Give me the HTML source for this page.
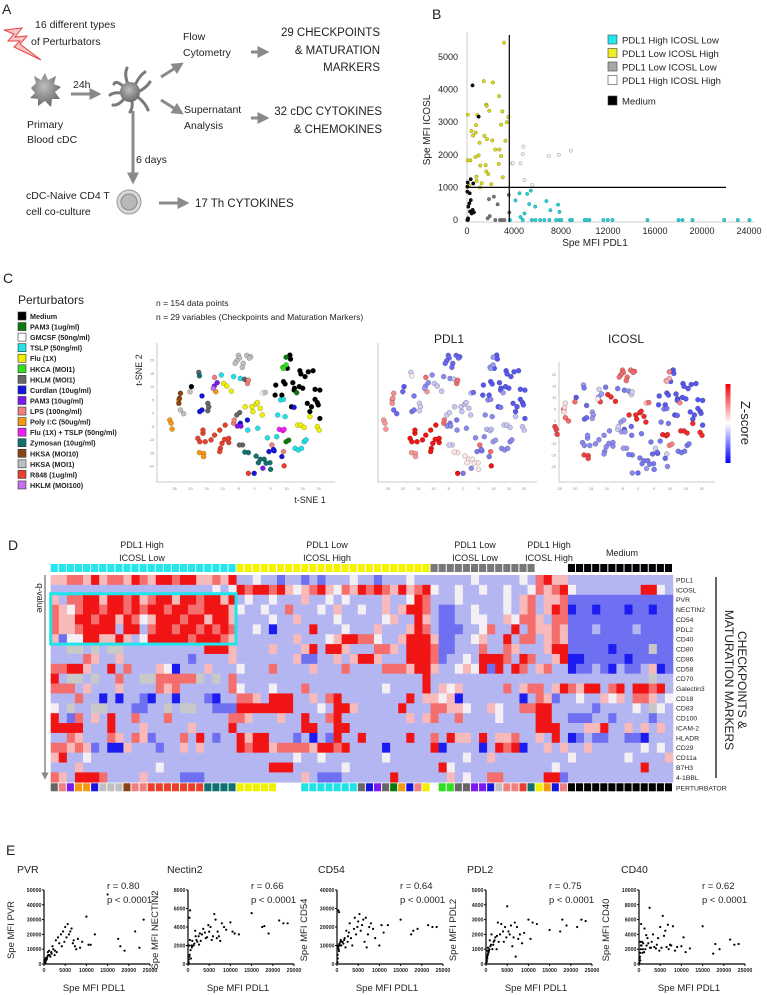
<!DOCTYPE html>
<html><head><meta charset="utf-8">
<style>
html,body{margin:0;padding:0;background:#fff;}
svg{display:block;font-family:"Liberation Sans",sans-serif;}
</style></head>
<body>
<svg id="fig" width="767" height="995" viewBox="0 0 767 995" xmlns="http://www.w3.org/2000/svg">
<defs>
<marker id="ah" markerWidth="4" markerHeight="4" refX="2.5" refY="2" orient="auto"><path d="M0,0 L4,2 L0,4 z" fill="#8a8a8a"/></marker>
<marker id="ah2" markerWidth="5" markerHeight="5" refX="2.5" refY="2.5" orient="auto"><path d="M0,0 L5,2.5 L0,5 z" fill="#888"/></marker>
<radialGradient id="cellg" cx="0.45" cy="0.4" r="0.6"><stop offset="0" stop-color="#bdbdbd"/><stop offset="1" stop-color="#6a6a6a"/></radialGradient>
<linearGradient id="zbar" x1="0" y1="0" x2="0" y2="1"><stop offset="0" stop-color="#f00000"/><stop offset="0.5" stop-color="#ffffff"/><stop offset="1" stop-color="#0000ff"/></linearGradient>
</defs>

<!-- PANEL A -->
<g font-size="10.5" fill="#222">
<text x="2" y="14" font-size="14">A</text>
<polygon points="4,30 22,28 15,37 27,36 20,44 41,60 14,47 20,41 8,41 14,34" fill="#f8c8c8" stroke="#e84040" stroke-width="1"/>
<text x="35" y="28">16 different types</text>
<text x="31" y="45">of Perturbators</text>
<path d="M31,88 L36,83 L34,76 L41,80 L45,73 L48,80 L56,76 L54,84 L61,87 L55,92 L60,99 L52,99 L51,107 L45,101 L38,106 L38,99 L30,98 L35,93 z" fill="url(#cellg)"/>
<text x="27" y="128">Primary</text>
<text x="27" y="143">Blood cDC</text>
<line x1="71" y1="94" x2="97" y2="94" stroke="#8a8a8a" stroke-width="3" marker-end="url(#ah)"/>
<text x="73" y="88">24h</text>
<g stroke="#7a7a7a" stroke-width="3" stroke-linecap="round" fill="none">
<path d="M128,84 Q124,75 127,68"/><path d="M135,85 Q140,75 145,72"/><path d="M138,92 Q146,88 150,82"/><path d="M139,98 Q146,104 148,110"/><path d="M132,101 Q133,108 130,112"/><path d="M124,99 Q118,106 113,105"/><path d="M121,93 Q114,92 110,95"/><path d="M123,86 Q116,80 114,84"/>
</g>
<circle cx="130" cy="92" r="10" fill="url(#cellg)"/>
<line x1="161" y1="77" x2="180" y2="65" stroke="#8a8a8a" stroke-width="3" marker-end="url(#ah)"/>
<line x1="161" y1="100" x2="180" y2="112" stroke="#8a8a8a" stroke-width="3" marker-end="url(#ah)"/>
<text x="183" y="40">Flow</text>
<text x="183" y="56">Cytometry</text>
<line x1="251" y1="52" x2="265" y2="52" stroke="#8a8a8a" stroke-width="3" marker-end="url(#ah)"/>
<g font-size="11.5" text-anchor="end">
<text x="380" y="36">29 CHECKPOINTS</text>
<text x="380" y="54">&amp; MATURATION</text>
<text x="380" y="71">MARKERS</text>
<text x="382" y="115">32 cDC CYTOKINES</text>
<text x="382" y="133">&amp; CHEMOKINES</text>
</g>
<text x="184" y="113">Supernatant</text>
<text x="184" y="129">Analysis</text>
<line x1="251" y1="118" x2="265" y2="118" stroke="#8a8a8a" stroke-width="3" marker-end="url(#ah)"/>
<line x1="133" y1="111" x2="133" y2="180" stroke="#8a8a8a" stroke-width="3" marker-end="url(#ah)"/>
<text x="136" y="163">6 days</text>
<circle cx="129" cy="202" r="12" fill="#d8d8d8" stroke="#999" stroke-width="1"/>
<circle cx="129" cy="202" r="8" fill="#b8b8b8" stroke="#888" stroke-width="1"/>
<text x="26" y="199">cDC-Naive CD4 T</text>
<text x="26" y="215">cell co-culture</text>
<line x1="159" y1="203" x2="185" y2="203" stroke="#8a8a8a" stroke-width="3" marker-end="url(#ah)"/>
<text x="195" y="207" font-size="11.5">17 Th CYTOKINES</text>
</g>

<!-- PANEL B static -->
<g fill="#222">
<text x="432" y="19" font-size="14">B</text>
<text transform="translate(430,130) rotate(-90)" text-anchor="middle" font-size="10">Spe MFI ICOSL</text>
<text x="595" y="246" text-anchor="middle" font-size="10">Spe MFI PDL1</text>
</g>
<g id="bplot"></g>

<!-- PANEL C static -->
<g fill="#222">
<text x="3" y="283" font-size="14">C</text>
<text x="18" y="304" font-size="12">Perturbators</text>
<text x="156" y="306" font-size="8.5">n = 154 data points</text>
<text x="156" y="320" font-size="8.5">n = 29 variables (Checkpoints and Maturation Markers)</text>
<text transform="translate(142,370) rotate(-90)" text-anchor="middle" font-size="9">t-SNE 2</text>
<text x="310" y="503" text-anchor="middle" font-size="9">t-SNE 1</text>
<text x="449" y="343" text-anchor="middle" font-size="12">PDL1</text>
<text x="626" y="343" text-anchor="middle" font-size="12">ICOSL</text>
<rect x="725.5" y="384" width="5" height="79" fill="url(#zbar)"/>
<text transform="translate(741,423) rotate(90)" text-anchor="middle" font-size="13">Z-score</text>
</g>
<g id="cplot"></g>

<!-- PANEL D static -->
<g fill="#222">
<text x="8" y="550" font-size="14">D</text>
<g font-size="9" text-anchor="middle">
<text x="142" y="548">PDL1 High</text>
<text x="142" y="561">ICOSL Low</text>
<text x="327" y="548">PDL1 Low</text>
<text x="327" y="561">ICOSL High</text>
<text x="475" y="548">PDL1 Low</text>
<text x="475" y="561">ICOSL Low</text>
<text x="549" y="548">PDL1 High</text>
<text x="549" y="561">ICOSL High</text>
<text x="622" y="556">Medium</text>
</g>
<text transform="translate(37,598) rotate(90)" text-anchor="middle" font-size="9">q-value</text>
<line x1="45" y1="575" x2="45" y2="776" stroke="#888" stroke-width="1.5" marker-end="url(#ah2)"/>
<line x1="716" y1="577" x2="716" y2="778" stroke="#000" stroke-width="1.2"/>
<text transform="translate(738,680) rotate(90)" text-anchor="middle" font-size="12">CHECKPOINTS &amp;</text>
<text transform="translate(725,680) rotate(90)" text-anchor="middle" font-size="12">MATURATION MARKERS</text>
</g>
<g id="dplot"></g>

<!-- PANEL E -->
<text x="6" y="855" font-size="14" fill="#222">E</text>
<g id="eplot"></g>
</svg>

<script>
// ---------- DATA ----------
// Panel B
const bTicksX = [0,4000,8000,12000,16000,20000,24000];
const bTicksY = [0,1000,2000,3000,4000,5000];
const bYellowX = [3150,1420,2210,2730,1640,1670,1900,3010,61,880,3520,3380,2900,770,380,740,510,1480,1700,2150,1070,3270,2410,2760,2900,710,990,61,290,1590,1130,1640,2700,1810,800,3040,820,1250,2070,200,1100];
const bYellowY = [5440,4260,4220,3800,3540,3500,3350,3330,3230,3220,3160,3000,2920,2910,2730,2680,2590,2580,2480,2440,2370,2430,2160,2160,1960,1930,1980,1830,1830,1680,1670,1490,1720,1410,1330,1310,1200,1130,1100,1050,1000];
const bBlackX = [470,990,60,320,30,530,30,200,110,320,260,400,90,30,480,590,230];
const bBlackY = [4130,3170,1150,1250,870,1120,1020,510,410,610,260,200,50,0,310,235,820];
const bGrayX = [1870,2290,2610,1760,1930,2410,2810,2980,3180,3600,3550,90,540];
const bGrayY = [640,715,480,50,120,0,0,0,0,230,770,0,245];
const bWhiteX = [3830,3890,4800,4750,4560,4880,5560,6960,7810,8830];
const bWhiteY = [1740,1740,2250,2020,1740,1230,1070,1960,2000,2130];
const bCyanX = [4130,4470,5120,5430,5800,6760,7750,7870,7100,5290,4890,4560,3660,4740,5510,5820,6220,6580,7010,7580,7860,8030,8770,8940,10020,10190,10420,11610,11980,12380,15360,18000,18340,19190,21890,23050,24040];
const bCyanY = [600,820,800,900,410,580,470,250,300,490,200,90,0,0,0,0,0,0,0,0,0,0,0,0,0,0,0,0,0,0,0,0,0,0,0,0,0];
const bLegendLabels = ["PDL1 High ICOSL Low","PDL1 Low ICOSL High","PDL1 Low ICOSL Low","PDL1 High ICOSL High","Medium"];
const bLegendColors = ["#22e8ee","#eeee22","#a8a8a8","#ffffff","#000000"];
const bThresholdX = 3600;
const bThresholdY = 1000;

// Panel C
const pertCodes = ["K","G","W","C","Y","L","M","U","P","S","O","F","T","N","H","R","V"];
const pertNames = ["Medium","PAM3 (1ug/ml)","GMCSF (50ng/ml)","TSLP (50ng/ml)","Flu (1X)","HKCA (MOI1)","HKLM (MOI1)","Curdlan (10ug/ml)","PAM3 (10ug/ml)","LPS (100ng/ml)","Poly I:C (50ug/ml)","Flu (1X) + TSLP (50ng/ml)","Zymosan (10ug/ml)","HKSA (MOI10)","HKSA (MOI1)","R848 (1ug/ml)","HKLM (MOI100)"];
const pertColors = ["#000000","#0a7a0a","#ffffff","#22e0e8","#f0f000","#33dd22","#666666","#1414e0","#7a1aee","#f08080","#f59a10","#ee22ee","#117070","#8b4513","#c0c0c0","#e8402a","#c070f0"];
const pdl1Z = [-0.9,-0.5,-0.3,-0.6,-0.25,-0.5,-0.2,-0.7,-0.6,0.6,0.4,-0.3,0.05,0.45,-0.8,1.0,-0.5];
const icoslZ = [-0.9,0.5,0.2,-0.7,0.9,0.3,-0.5,-0.8,-0.5,-0.2,0.8,0.9,-0.7,0.1,0.6,-0.6,0.0];
const tsneTicks = [-25,-20,-15,-10,-5,0,5,10,15,20];
const ptsK = [[11,22.1],[11.2,20.6],[10.2,17.1],[6.6,10.8],[9,12.1],[9.5,11.2],[6.4,7],[8.5,7],[12.4,9.6],[13.9,10.2],[15,9.6],[14.1,16.2],[14.4,15],[15.7,14],[16.7,15.8],[18.2,16.2],[11.9,11.7],[12.3,8.9],[18.8,9.2],[20.3,8.9],[18.8,5.4],[19.5,4.2],[19.8,3.3],[17.7,2.6],[16.4,3.9],[17.2,0.8],[20.3,-1.8],[11.5,2.6],[-19.6,10.2]];
const ptsG = [[9.8,21.3],[13.1,7.9],[9.8,-10.6],[10.6,-10]];
const ptsW = [[2.5,7.8]];
const ptsC = [[-10.3,14.6],[-6.5,14],[-4.4,13.3],[8.1,5.2],[9,5.4],[7.2,-0.5],[9.5,-1.1],[6.9,-8.7],[4,-9.1],[12.6,-13.1],[13.6,-13.7],[14.6,-13.1],[15.4,-10.6],[16,-9.9],[-2.1,-6.2],[1,-5.5]];
const ptsY = [[-9.6,11.4],[-8.6,10.4],[-7.2,8.5],[-2.9,2.6],[-0.8,2.6],[0.5,3.6],[0.9,4.2],[1.8,2],[2.4,-0.5],[-0.5,0.8],[13.4,-4.3],[14.4,-4.3],[15.4,-5.2],[19.5,-4.9],[20.1,-6.2],[17.2,-1.1]];
const ptsL = [[8.8,17.5],[9.8,18.4],[9,17.1]];
const ptsM = [[-17.3,15.6],[-14.5,3.9],[-14.2,2.6],[-14.5,1.1],[-5.5,-0.5],[-4.6,0.4],[-3.7,-11.8],[-4.7,-11.8],[-3.1,13],[-2.3,12.4]];
const ptsU = [[-16.3,6.7],[-17,0.8],[-16.3,1.4],[-4.4,-3.6],[-2.2,-2.4],[4.5,-14.3],[6.1,-14],[5.9,-13.5],[8.5,-16.2],[-0.1,-22.5],[12.3,2.4]];
const ptsP = [[-12.5,10.4],[-11.6,11.7],[-5.3,-4.7],[-4.2,-4.7],[2.6,-20.6]];
const ptsS = [[-12.4,13.7],[-2.2,11.4],[-6.5,-3.6],[-6.3,-2.4],[5.4,-11.8],[9,-14.3],[-1.9,12.6]];
const ptsO = [[-26.3,-2.4],[-25.9,-3.6],[-25.6,-5.8],[-23.5,5.2],[-12,8.3],[-17.1,-14.7],[-15.8,-15],[-15.8,-16.2]];
const ptsF = [[7.7,-5.9],[8.8,-6.4],[9.2,-5.9]];
const ptsT = [[-17.1,14.3],[0.5,-16],[1.8,-17.2],[1.2,-18.5],[3,-17.2],[4.8,-18.5],[5,-21],[3.6,-18.7],[-1.9,-14.7],[-3,-14.5]];
const ptsN = [[-23,7.7],[-23.3,5.8],[-23.5,3.9]];
const ptsH = [[-5,22],[-4.7,21],[-5.5,20],[-6,19],[-3.5,19],[-3.8,17.5],[-2.4,22],[-1.2,21.5],[-1.6,21],[3.3,8],[-20,8.3],[-22,0],[-23,1.4]];
const ptsR = [[-17.6,-9.3],[-16,-7.4],[-16,-6.2],[-17,-10.6],[-15.3,-10.6],[-13.5,-9.9],[-12.4,-8.1],[-10.8,-6.2],[-10.1,-11.2],[-10.6,-13.1],[-10.8,-14.3],[-9.3,-9.7],[-8,-9.3],[-8,-10.9],[-1.9,-22.5],[9.2,-19.7],[-9.1,-4.3]];
const ptsV = [[-12.8,9.5]];

// Panel D
const hmRowNames = ["PDL1","ICOSL","PVR","NECTIN2","CD54","PDL2","CD40","CD80","CD86","CD58","CD70","Galectin3","CD18","CD83","CD100","ICAM-2","HLADR","CD29","CD11a","B7H3","4-1BBL"];
const hmGroupSizes = [23,24,13,4,13];
const hmGroupColors = ["#22e8ee","#f4f400","#777777","#ffffff","#000000"];
const hmRows = [
["pprrpRprrpRrpRRrRRpprpR","bbwbbBbbBbBbbbwbbBbbbwbb","bbbbbwbbbbbwb","rRpp","bbbbbbbbbbbbb"],
["bbbbbbbbbbbbbbbbbbbbwbw","RrRRrRpwprRpwrpRrRrpRprR","wbbwbbwbbwbbw","rprR","wbbbbbbbbRRwb"],
["pbrrRRpRRrRprRRpRRrRRpR","bwbbwbbbpbbwbwbbbbpbbwRr","bbbwbbbbbwbpr","bppr","BBBBBBBBBBBBB"],
["rpwrRRrRRrRrRRrRRrrRRRp","wbbwbbrbbbwbpbbwbbpbpRRr","bBBbbwbbbwbpr","bpRr","DBBDBBBDBBDBB"],
["rppRRrRRpRrwpRRRrRRpRRp","bbbbwbbpbbbbwbbbbbwpbbRp","bBBbbwwbbpwrr","pbrr","BBBBBBBBBBBBB"],
["rpprRRRRbRRbrRRrRRrRrRr","bbwbDbbbbRbbbwbbbpbbbpRr","bBBBbbwrbbRbr","pprp","BBBbBBBBbBBBB"],
["pBwwRRppRpbwRRRRRrRRRrp","bbbbbbbpbbbwpRRrrwbbpRRR","pBBbbwpbbRbrr","bprp","BBBBBBBBBBBBB"],
["bbggbgbggbbbbbbbbbbRRRp","bbbbpbbbpRbRRpbbbrrpbRRR","rBBbbbrbbrpbb","bpRR","BBBBBDBBBBgBB"],
["bbbbrpbbpbbbbbbbbBbbbbp","bbbbbbbpBBbbpbpRRpbbbRRR","rBbbwbRRRrbRr","bbpR","DDBBBBBDBBBBB"],
["rrRRpbbRbrbbbpwDbbbpbbb","wbbbrbbbbpbbbrbbbbrrrpRR","pbbwpwRBRbRrb","prbb","DBBbBDbBBbpDB"],
["Rbggbgbbrbbggrrrrrgbgbr","bbbbbbbbbbbbbbbbbbbbbbbR","bbbbbbbbbbbbb","bbbb","bbbbbbbbbbgbb"],
["rrrbpbbbpbbbbrprbbbbbbr","wbbbwbbbrbbbbbbbbbwbbbbR","bpwpbbbbbrbpr","rbpR","rpRRbrRbRRrRb"],
["bbbrbbDbDbbBDbbDbbbBDbb","rrpbRRRbbpbrRbbbbbbbbRbp","pwpDbbbbbbbDb","rpBb","bwbbpwpbrrpbw"],
["wbgbbggbbbBBbbgbggbbBBB","RRRRRRRbbbwbRRpbbbbbRbbb","rrppwbbpwbbrr","RRbb","bbbBbbbbwbgwb"],
["RbBrbpbRbbrbbbrbbbbbbbr","rpbbbpbbRbbrRbbbbbbbbpbp","rbbrbbbbwbbbb","RRbb","BBBbbBbbbbBbb"],
["RRRRbbbRbbbpbbbbbpbbbbR","bbbbbbbbRRbbRRbbbbbbbbbb","bbbbbbbbbbbbb","RRRb","bbppRbbpbpbpb"],
["bbrpbbbrpbrpBbbbrbRbBbb","RpRRbbbBbDbBRbbRbbbbbRbb","rbRppbRbpprbb","pbRb","DBbBBbbBBDbbb"],
["rrprpBbDDpbbbBbbpbpbbbb","RrRRprrrrpRRrRbbbbDbbbbb","RDbbbbDbRrRDb","bpbp","bbpbbbbbbwbwb"],
["pRbbwbbbbbbbbbbbbbbbbbb","bbbbbbbwbbwbbbbbbbwbbbbb","bbbbwbbpbbbbb","bbbb","wbbbbbbwbbbbp"],
["bbbpbbbbbbbbbwbbbbbbbbb","bbbbRRRbbbbbbwbbbbbbbbbb","bRwbbbbbbbbbb","bbwb","bbbbbbbbbRbbb"],
["rpbRRRrbbbbpbbbbBBBbbbb","bbbbbbbbpbBBBbbbbbbRbbbb","bbpbwbbrrbbbb","bRRB","bbbbbbbbbbbbb"]
];
const hmPerturbator = ["MSPOOUHHHNSSRRRRRRRTTTT","YYYYYWWWCCCCCCCMUPMGOUSY","WLLMMPPUHSSRT","YOUS","KKKKKKKKKKKKK"];

// Panel E
const eTitles = ["PVR","Nectin2","CD54","PDL2","CD40"];
const eYLabels = ["Spe MFI PVR","Spe MFI NECTIN2","Spe MFI CD54","Spe MFI PDL2","Spe MFI CD40"];
const eR = ["r = 0.80","r = 0.66","r = 0.64","r = 0.75","r = 0.62"];
const eYMax = [50000,8000,40000,5000,10000];
const eYStep = [10000,2000,10000,1000,2000];
const eXTicks = [0,5000,10000,15000,20000,25000];
const ePDL1 = [200,400,600,800,1000,300,500,700,900,1200,1500,1800,2000,2200,2500,2800,3000,3300,3600,4000,4200,4500,4800,5000,5300,5600,5900,6200,6500,6800,7000,7300,7600,8000,8500,9000,10000,10500,11000,12000,15000,17500,18000,19000,21500,22500,23500,100,150,250,350,450,1300,1700,2600];
const ePVR = [2000,3000,4000,5000,6000,1000,2500,3500,8000,9000,5000,7000,12000,10000,6000,16000,8000,18000,14000,20000,12000,22000,15000,25000,18000,27000,20000,22000,24000,14000,16000,12000,10000,17000,11000,15000,32000,13000,13000,20000,47000,17000,12000,9000,22000,11000,30000,1500,2000,3000,1000,4000,6000,8000,9000];
const eNECTIN2 = [500,1000,1500,2000,2500,800,5800,600,1800,2000,2200,3000,2600,2400,3000,3300,2500,3200,3800,3400,2800,2900,4200,3500,4000,2600,3000,5400,4800,2800,3500,3000,2500,4400,4000,3700,4500,3500,3300,3200,5500,4000,4100,3300,4700,4400,4400,0,200,2000,5000,2600,2000,3600,2100];
const eCD54 = [3000,8000,11000,12000,10000,29000,28000,10000,13000,12000,11000,14000,9000,18000,12000,17000,22000,14000,10000,19000,25000,16000,20000,23000,27000,18000,21000,24000,12000,25000,9000,16000,20000,22000,19000,14000,10000,21000,17000,21000,24000,16000,18000,19000,21000,20000,20000,1000,5000,9000,10000,7000,12000,13000,15000];
const ePDL2 = [200,600,800,1000,1200,400,700,900,1600,1300,1000,1500,1600,1800,1000,2800,1500,2000,2700,2200,1500,2500,1800,3900,2200,2000,2600,1200,1800,2800,500,2500,1700,2000,1400,2100,3000,1700,2800,2700,2300,2200,3000,2600,2500,3000,2900,100,300,500,900,1100,2000,1300,1900];
const eCD40 = [1000,2000,2500,1500,2800,500,5400,3000,2000,1600,2000,2500,3500,2800,7600,2200,3000,4000,2300,2100,2600,3500,1800,5000,2200,6500,3800,4500,2300,5300,2000,2600,2500,5100,1800,2300,2400,3600,1600,2100,5100,1400,2700,2000,3300,2600,2700,200,800,1500,3000,2500,4800,3900,2200];

// ---------- DRAWING ----------
const NS = "http://www.w3.org/2000/svg";
function mk(tag, attrs, parent){
  const e = document.createElementNS(NS, tag);
  for (const k in attrs) e.setAttribute(k, attrs[k]);
  parent.appendChild(e);
  return e;
}
function txt(parent, x, y, s, size, anchor, fill){
  const e = mk("text", {x:x, y:y, "font-size":size, "text-anchor":anchor||"start", fill:fill||"#222"}, parent);
  e.textContent = s;
  return e;
}

// Panel B
(function(){
  const g = document.getElementById("bplot");
  const bx = v => 467 + v/24000*282;
  const by = v => 220 - v/5000*163;
  let e;
  e = mk("line",{x1:bx(0),y1:32,x2:bx(0),y2:by(0)+2,stroke:"#ccc","stroke-width":1},g);
  
  
  e = mk("line",{x1:bx(0),y1:by(0)+2,x2:bx(24000)+5,y2:by(0)+2,stroke:"#ccc","stroke-width":1},g);
  
  
  bTicksX.forEach(v=>{
    e = txt(g, bx(v), 234, String(v), 9, "middle");
    
    
  });
  bTicksY.forEach(v=>{
    e = txt(g, 458, by(v)+3, String(v), 9, "end");
    
    
  });
  function series(xs, ys, fill, stroke, name){
    xs.forEach((v,i)=>{
      const c = mk("circle",{cx:bx(v),cy:by(ys[i]),r:1.7,fill:fill,stroke:stroke,"stroke-width":0.5},g);
      
      
    });
  }
  series(bWhiteX,bWhiteY,"#f4f4f4","#999","b-point-pdl1high-icoslhigh");
  series(bGrayX,bGrayY,"#777","#555","b-point-pdl1low-icosllow");
  series(bYellowX,bYellowY,"#dede1a","#8a8a10","b-point-pdl1low-icoslhigh");
  series(bCyanX,bCyanY,"#2ccfd6","#1a9aa0","b-point-pdl1high-icosllow");
  series(bBlackX,bBlackY,"#111","#000","b-point-medium");
  e = mk("line",{x1:bx(bThresholdX),y1:35,x2:bx(bThresholdX),y2:by(0)+2,stroke:"#000","stroke-width":1.2},g);
  
  
  e = mk("line",{x1:bx(0),y1:by(bThresholdY),x2:726,y2:by(bThresholdY),stroke:"#000","stroke-width":1.2},g);
  
  
  const ly = [40,53.5,67,80.5,101];
  bLegendLabels.forEach((s,i)=>{
    const r = mk("rect",{x:608,y:ly[i]-5,width:9,height:9,fill:bLegendColors[i],stroke:"#444","stroke-width":0.6},g);
    
    
    const t = txt(g, 622, ly[i]+3.5, s, 9.5, "start");
    
    
  });
})();

// Panel C
(function(){
  const g = document.getElementById("cplot");
  let e;
  pertNames.forEach((s,i)=>{
    const y = 316 + i*10.56;
    const r = mk("rect",{x:18,y:y-4,width:8,height:8,fill:pertColors[i],stroke:"#333","stroke-width":0.6},g);
    
    
    const t = txt(g, 30, y+3, s, 7.2, "start");
    t.setAttribute('font-weight','bold');
    
    
  });
  const groups = [["K",ptsK],["G",ptsG],["W",ptsW],["C",ptsC],["Y",ptsY],["L",ptsL],["M",ptsM],["U",ptsU],["P",ptsP],["S",ptsS],["O",ptsO],["F",ptsF],["T",ptsT],["N",ptsN],["H",ptsH],["R",ptsR],["V",ptsV]];
  function zcol(z){
    z = Math.max(-1, Math.min(1, z));
    if (z >= 0){ const t=z; return `rgb(${Math.round(240+15*(1-t))},${Math.round(240*(1-t)+20*t)},${Math.round(240*(1-t)+20*t)})`; }
    const t=-z; return `rgb(${Math.round(240*(1-t)+70*t)},${Math.round(240*(1-t)+70*t)},${Math.round(245*(1-t)+240*t)})`;
  }
  function plot(name, x0, sx, y0, sy, box, colorFn, showYTicks){
    const pg = mk("g",{},g);
    
    
    let a = mk("polyline",{points:`${box[0]},${box[1]} ${box[0]},${box[3]} ${box[2]},${box[3]}`,fill:"none",stroke:"#bbb","stroke-width":0.8},pg);
    
    
    tsneTicks.forEach(v=>{
      const t = txt(pg, x0+v*sx, box[3]+8, String(v), 3.5, "middle", "#888");
      
      
    });
    if (showYTicks){
      [-20,-15,-10,-5,0,5,10,15,20].forEach(v=>{
        const t = txt(pg, box[0]-3, y0-v*sy+1, String(v), 3.5, "end", "#888");
        
        
      });
    }
    groups.forEach(([code, pts])=>{
      const ci = pertCodes.indexOf(code);
      pts.forEach(p=>{
        const c = mk("circle",{cx:x0+p[0]*sx, cy:y0-p[1]*sy, r:2.5, fill:colorFn(ci), stroke:"rgba(0,0,0,0.35)","stroke-width":0.5},pg);
        
        
      });
    });
  }
  plot("tsne-perturbator-plot", 254.5, 3.22, 413.7, 2.65, [157,343,335,482], ci=>pertColors[ci], true);
  plot("tsne-pdl1-plot", 463.4, 3.03, 413.7, 2.65, [378,343,537,482], ci=>zcol(pdl1Z[ci]), false);
  plot("tsne-icosl-plot", 638.3, 3.17, 421, 2.31, [559,362,715,482], ci=>zcol(icoslZ[ci]), true);
})();

// Panel D
(function(){
  const g = document.getElementById("dplot");
  const x0 = 50.7, x1 = 673, ncol = 77;
  const cw = (x1-x0)/ncol;
  const top = 575, rh = 9.87;
  const levelColors = {R:"#f01414",r:"#f46e6e",p:"#f7b9b9",w:"#f3eff4",b:"#b3b6f1",B:"#6f6ff2",D:"#1c1cf0",g:"#c8c8c8"};
  const pertMap = {};
  pertCodes.forEach((c,i)=>{ pertMap[c]=pertColors[i]; });
  function cols(parts){
    let s = "";
    parts.forEach((p,gi)=>{
      let q = p;
      while (q.length < hmGroupSizes[gi]) q += q[q.length-1];
      s += q.slice(0, hmGroupSizes[gi]);
    });
    return s;
  }
  let e;
  let ci = 0;
  hmGroupSizes.forEach((n,gi)=>{
    for (let k=0;k<n;k++,ci++){
      e = mk("rect",{x:x0+ci*cw, y:564, width:cw-1, height:8, fill:hmGroupColors[gi]},g);
      
      
    }
  });
  hmRows.forEach((parts, ri)=>{
    const s = cols(parts);
    for (let c=0;c<ncol;c++){
      const r = mk("rect",{x:x0+c*cw, y:top+ri*rh, width:cw+0.3, height:rh+0.3, fill:levelColors[s[c]]||"#b3b6f1"},g);
      
      
    }
    const t = txt(g, 676, top+ri*rh+rh/2+2.5, hmRowNames[ri], 6.8, "start");
    
    
  });
  const ps = cols(hmPerturbator);
  for (let c=0;c<ncol;c++){
    const col = ps[c]==="W" ? "#ffffff" : pertMap[ps[c]];
    e = mk("rect",{x:x0+c*cw, y:top+21*rh+1, width:cw-1, height:8, fill:col},g);
    
    
  }
  const t = txt(g, 676, top+21*rh+8, "PERTURBATOR", 6.8, "start");
  
  
  e = mk("rect",{x:x0, y:top+2*rh-1, width:cw*23-0.5, height:rh*5+1, fill:"none", stroke:"#1ee4ec", "stroke-width":3},g);
  
  
})();

// Panel E
(function(){
  const g = document.getElementById("eplot");
  const ys = [ePVR, eNECTIN2, eCD54, ePDL2, eCD40];
  const ox = [44,188,337,486,639];
  const titleX = [17,167,318,467,621];
  ys.forEach((yv, pi)=>{
    const o = ox[pi];
    const sx = v => o + v/25000*106;
    const sy = v => 964 - v/eYMax[pi]*74;
    const pg = mk("g",{},g);
    
    
    let e = txt(pg, titleX[pi], 873, eTitles[pi], 10.5, "start");
    
    
    e = mk("line",{x1:o,y1:sy(eYMax[pi]),x2:o,y2:964,stroke:"#000","stroke-width":1.2},pg);
    
    
    e = mk("line",{x1:o,y1:964,x2:sx(25000),y2:964,stroke:"#000","stroke-width":1.2},pg);
    
    
    for (let v=0; v<=eYMax[pi]; v+=eYStep[pi]){
      e = mk("line",{x1:o-2,y1:sy(v),x2:o,y2:sy(v),stroke:"#000","stroke-width":1},pg);
      
      
      e = txt(pg, o-2.5, sy(v)+2, String(v), 5.3, "end");
      e.setAttribute('font-weight','bold');
      
      
    }
    eXTicks.forEach(v=>{
      e = mk("line",{x1:sx(v),y1:964,x2:sx(v),y2:966,stroke:"#000","stroke-width":1},pg);
      
      
      e = txt(pg, sx(v), 972, String(v), 5.3, "middle");
      e.setAttribute('font-weight','bold');
      
      
    });
    ePDL1.forEach((xv,i)=>{
      const c = mk("circle",{cx:sx(xv), cy:sy(yv[i]), r:1.1, fill:"#000"},pg);
      
      
    });
    e = txt(pg, o+50, 991, "Spe MFI PDL1", 9.5, "middle");
    
    
    e = mk("text",{transform:`translate(${o-30},930) rotate(-90)`,"text-anchor":"middle","font-size":9.5,fill:"#222"},pg);
    e.textContent = eYLabels[pi];
    
    
    e = txt(pg, o+63, 889, eR[pi], 9.5, "start");
    
    
    e = txt(pg, o+63, 903, "p < 0.0001", 9.5, "start");
    
    
  });
})();
</script>
</body></html>
